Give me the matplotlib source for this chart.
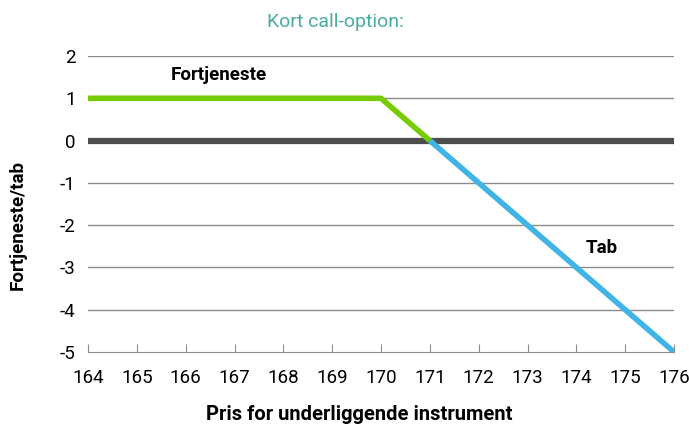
import matplotlib.pyplot as plt

plt.rcParams['font.family'] = ['Roboto', 'DejaVu Sans']
plt.rcParams['axes.unicode_minus'] = False

x_profit = [164, 170, 171]
y_profit = [1, 1, 0]
x_loss = [171, 176]
y_loss = [0, -5]
x_ticks = list(range(164, 177))
y_ticks = list(range(-5, 3))

fig = plt.figure(figsize=(6.89, 4.28), dpi=100)
ax = fig.add_axes([88/689, 1-352/428, (674-88)/689, (352-56)/428])

for y in y_ticks:
    if y != -5:
        ax.axhline(y, color='#8c8c8c', lw=1.0, zorder=1)
ax.axhline(0, color='#4d4d4d', lw=4.5, zorder=2)

ax.plot(x_profit, y_profit, color='#77cc00', lw=4, solid_capstyle='butt', zorder=3)
ax.plot(x_loss, y_loss, color='#40b4e5', lw=4, solid_capstyle='butt', zorder=3)

ax.set_xlim(164, 176)
ax.set_ylim(-5, 2)
ax.set_xticks(x_ticks)
ax.set_yticks(y_ticks)
ax.tick_params(axis='x', direction='in', length=6, color='#8c8c8c', labelsize=13.5, pad=12)
ax.tick_params(axis='y', length=0, labelsize=13.5, pad=9)
for s in ['top', 'right', 'left']:
    ax.spines[s].set_visible(False)
ax.spines['bottom'].set_color('#8c8c8c')

ax.text(165.7, 1.55, 'Fortjeneste', fontsize=13.5, fontweight='bold', va='center')
ax.text(174.2, -2.55, 'Tab', fontsize=13.5, fontweight='bold', va='center')

fig.text(335/689, 1-22/428, 'Kort call-option:', color='#4aaba0', fontsize=14, ha='center', va='center')
fig.text(359/689, 1-415/428, 'Pris for underliggende instrument', fontsize=14.5, fontweight='bold', ha='center', va='center')
fig.text(18/689, 1-225/428, 'Fortjeneste/tab', fontsize=13.5, fontweight='bold', rotation=90, ha='center', va='center')

fig.savefig('out.png', dpi=100)
